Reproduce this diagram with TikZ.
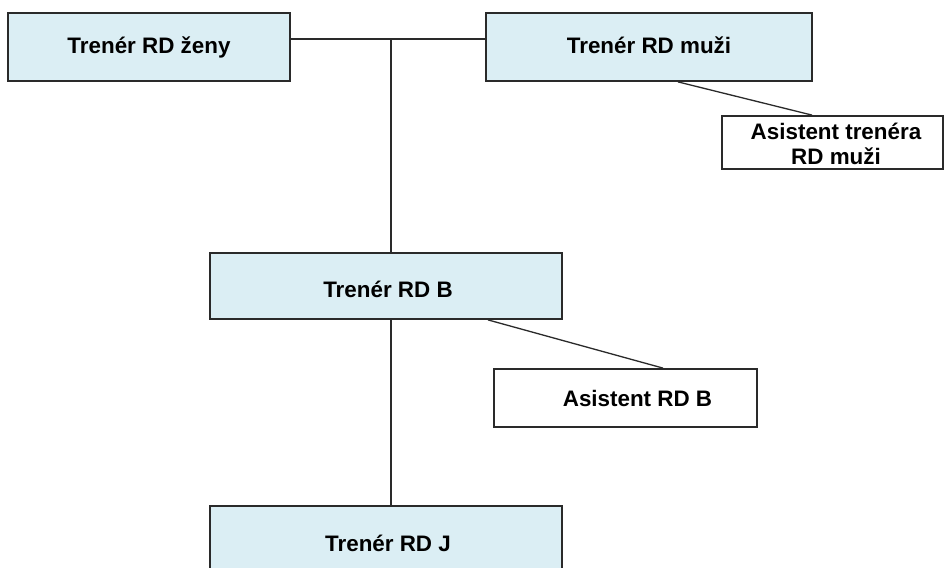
\documentclass[tikz,border=0pt]{standalone}
\usepackage{fontspec}
\setmainfont{Liberation Sans}
\definecolor{boxblue}{HTML}{DBEEF4}
\definecolor{edge}{HTML}{2A2A2A}
\begin{document}
\begin{tikzpicture}[x=1pt,y=-1pt,
  box/.style={draw=edge, line width=1.8pt, fill=boxblue, rectangle, inner sep=0pt},
  wbox/.style={box, fill=white},
  lbl/.style={font=\fontsize{22.4}{25}\selectfont\bfseries, align=center, inner sep=0pt, text=black},
  conn/.style={draw=edge, line width=1.3pt}]
\clip (0,0) rectangle (944,567);
\fill[white] (0,0) rectangle (944,567);
% boxes
\node[box, minimum width=282pt, minimum height=68pt] (zeny) at (149,47) {};
\node[box, minimum width=326pt, minimum height=68pt] (muzi) at (649,47) {};
\node[wbox, minimum width=221pt, minimum height=53pt] (asm) at (832.5,142.5) {};
\node[box, minimum width=352pt, minimum height=66pt] (rdb) at (386,286) {};
\node[wbox, minimum width=263pt, minimum height=58pt] (asb) at (625.5,398) {};
\node[box, minimum width=352pt, minimum height=66pt] (rdj) at (386,539) {};
% labels
\node[lbl, anchor=base] (tz) at (149,54) {Trenér RD ženy};
\node[lbl, anchor=base] (tm) at (649,54) {Trenér RD muži};
\node[lbl] (tam) at (836,144) {Asistent trenéra\\RD muži};
\node[lbl, anchor=base] (tb) at (388,297) {Trenér RD B};
\node[lbl, anchor=base] (tab) at (637.5,406) {Asistent RD B};
\node[lbl, anchor=base] (tj) at (388,551) {Trenér RD J};
% connectors
\coordinate (j) at (391,39);
\draw[conn] (zeny.east |- j) -- (muzi.west |- j);
\draw[conn] (j) -- (j |- rdb.north);
\draw[conn] (rdb.south -| j) -- (j |- rdj.north);
\draw[conn] ([xshift=29pt]muzi.south) -- ([xshift=-20.5pt]asm.north);
\draw[conn] ([xshift=102pt]rdb.south) -- ([xshift=37.5pt]asb.north);
\end{tikzpicture}
\end{document}
